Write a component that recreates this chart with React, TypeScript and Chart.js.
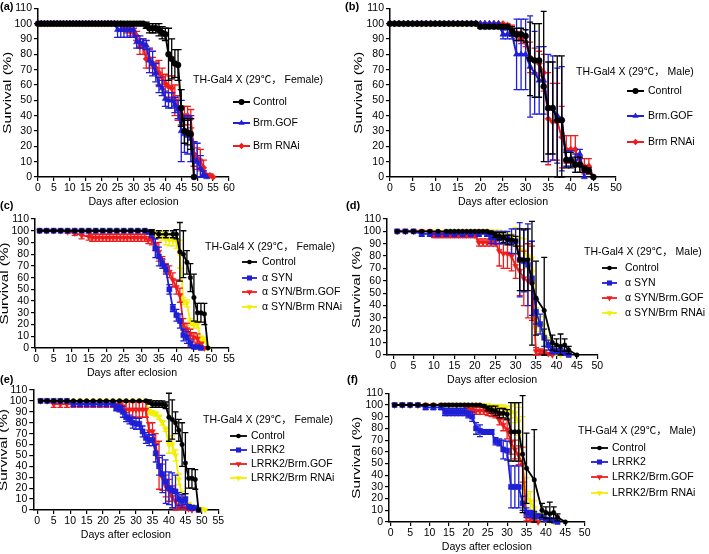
import React, { useEffect, useRef } from 'react';
import { Chart, registerables } from 'chart.js';
Chart.register(...registerables);

const FONT = '"Liberation Sans", Arial, "Noto Sans CJK SC", sans-serif';
const BLACK = '#000000';
const BLUE = '#1f1fd6';
const RED = '#f01c1c';
const YELLOW = '#f2ee00';

// ---------- tick labels ----------
const X_TICKS_60 = [0,5,10,15,20,25,30,35,40,45,50,55,60];
const X_TICKS_55 = [0,5,10,15,20,25,30,35,40,45,50,55];
const X_TICKS_50 = [0,5,10,15,20,25,30,35,40,45,50];
const Y_TICKS = [0,10,20,30,40,50,60,70,80,90,100,110];

// ---------- Panel (a) ----------
const A_ctrl_days = [0,1,2,3,4,5,6,7,8,9,10,11,12,13,14,15,16,17,18,19,20,21,22,23,24,25,26,27,28,29,30,31,32,33,34,35,36,37,38,39,40,41,42,43,44,45,46,47,48,49];
const A_ctrl = [100,100,100,100,100,100,100,100,100,100,100,100,100,100,100,100,100,100,100,100,100,100,100,100,100,100,100,100,100,100,100,100,100,100,99,97,97,97,96,94,93,80,77,74,73,45,30,29,28,0];
const A_ctrl_err = [0,0,0,0,0,0,0,0,0,0,0,0,0,0,0,0,0,0,0,0,0,0,0,0,0,0,0,0,0,0,0,0,0,0,2,3,3,3,4,4,4,17,13,9,10,12,8,8,10,0];
const A_gof_days = [0,1,2,3,4,5,6,7,8,9,10,11,12,13,14,15,16,17,18,19,20,21,22,23,24,25,26,27,28,29,30,31,32,33,34,35,36,37,38,39,40,41,42,43,44,45,46,47,48,49,50,51,52,53];
const A_gof = [100,100,100,100,100,100,100,100,100,100,100,100,100,100,100,100,100,100,100,100,100,100,100,100,100,96,96,96,96,96,96,88,88,87,86,76,74,68,60,58,51,50,50,47,44,30,28,27,25,11,10,6,2,0];
const A_gof_err = [0,0,0,0,0,0,0,0,0,0,0,0,0,0,0,0,0,0,0,0,0,0,0,0,0,5,5,5,5,5,5,4,4,3,3,8,8,6,5,5,5,5,5,5,6,20,12,12,15,12,12,8,2,0];
const A_rnai_days = [0,1,2,3,4,5,6,7,8,9,10,11,12,13,14,15,16,17,18,19,20,21,22,23,24,25,26,27,28,29,30,31,32,33,34,35,36,37,38,39,40,41,42,43,44,45,46,47,48,49,50,51,52,53,54,55];
const A_rnai = [100,100,100,100,100,100,100,100,100,100,100,100,100,100,100,100,100,100,100,100,100,100,100,100,100,100,100,98,97,95,94,92,85,85,77,77,73,71,68,65,61,59,58,50,45,40,40,40,38,15,12,11,6,1,1,0];
const A_rnai_err = [0,0,0,0,0,0,0,0,0,0,0,0,0,0,0,0,0,0,0,0,0,0,0,0,0,0,0,3,3,3,3,3,5,5,6,6,5,4,8,6,6,7,8,10,8,6,6,6,6,8,7,7,5,1,1,0];

// ---------- Panel (b) ----------
const B_ctrl_days = [0,1,2,3,4,5,6,7,8,9,10,11,12,13,14,15,16,17,18,19,20,21,22,23,24,25,26,27,28,29,30,31,32,33,34,35,36,37,38,39,40,41,42,43,44,45];
const B_ctrl = [100,100,100,100,100,100,100,100,100,100,100,100,100,100,100,100,100,100,100,100,98,98,98,98,98,98,98,95,93,93,92,77,76,76,59,45,45,37,37,11,11,8,8,5,4,0];
const B_ctrl_err = [0,0,0,0,0,0,0,0,0,0,0,0,0,0,0,0,0,0,0,0,1,1,1,1,1,1,1,3,4,4,4,24,24,24,49,30,30,42,42,5,5,5,5,2,2,0];
const B_gof_days = [0,1,2,3,4,5,6,7,8,9,10,11,12,13,14,15,16,17,18,19,20,21,22,23,24,25,26,27,28,29,30,31,32,33,34,35,36,37,38,39,40,41,42,43];
const B_gof = [100,100,100,100,100,100,100,100,100,100,100,100,100,100,100,100,100,100,100,100,100,100,100,100,100,93,93,93,80,80,80,72,68,63,63,45,45,40,38,12,12,9,15,0];
const B_gof_err = [0,0,0,0,0,0,0,0,0,0,0,0,0,0,0,0,0,0,0,0,0,0,0,0,0,3,3,3,23,23,23,33,27,22,22,35,34,31,34,5,5,6,3,0];
const B_rnai_days = [0,1,2,3,4,5,6,7,8,9,10,11,12,13,14,15,16,17,18,19,20,21,22,23,24,25,26,27,28,29,30,31,32,33,34,35,36,37,38,39,40,41,42,43,44,45];
const B_rnai = [100,100,100,100,100,100,100,100,100,100,100,100,100,100,100,100,100,100,100,100,100,100,100,100,100,100,99,96,92,90,88,78,76,74,68,38,36,36,26,18,18,18,8,7,7,0];
const B_rnai_err = [0,0,0,0,0,0,0,0,0,0,0,0,0,0,0,0,0,0,0,0,0,0,0,0,0,0,1,3,3,3,3,10,8,8,12,30,25,25,20,9,9,9,5,5,5,0];

// ---------- Panel (c) ----------
const C_ctrl_days = [1,3,5,7,9,11,13,15,17,19,21,23,25,27,29,31,33,35,37,39,40,41,42,43,44,45,46,47,48,49];
const C_ctrl = [100,100,100,100,100,100,100,100,100,100,100,100,100,100,100,100,99,97,97,97,97,82,80,73,60,43,30,30,29,0];
const C_ctrl_err = [0,0,0,0,0,0,0,0,0,0,0,0,0,0,0,0,2,3,3,3,4,25,20,10,12,20,8,8,9,0];
const C_syn_days = [1,3,5,7,9,11,13,15,17,19,21,23,25,27,29,31,32,33,34,35,36,37,38,39,40,41,42,43,44,45,46,47];
const C_syn = [100,100,100,100,100,100,100,100,100,100,100,100,100,100,100,100,99,97,85,78,72,67,50,34,28,23,11,9,4,1,1,0];
const C_syn_err = [0,0,0,0,0,0,0,0,0,0,0,0,0,0,0,0,1,3,8,8,4,4,4,3,5,6,5,5,3,1,1,0];
const C_gof_days = [1,3,5,7,9,11,13,15,16,17,18,19,20,21,22,23,24,25,26,27,28,29,30,31,32,33,34,35,36,37,38,39,40,41,42,43,44,45,46,47,48];
const C_gof = [100,100,100,100,99,98,96,95,94,94,94,94,94,94,94,94,94,94,94,94,94,94,94,94,92,92,88,82,74,68,65,58,52,45,20,16,12,9,8,3,0];
const C_gof_err = [0,0,0,0,1,2,3,3,3,3,3,3,3,3,3,3,3,3,3,3,3,3,3,3,3,4,5,8,4,4,5,6,6,6,5,5,4,4,4,2,0];
const C_rnai_days = [1,3,5,7,9,11,13,15,17,19,21,23,25,27,29,31,33,34,35,36,37,38,39,40,41,42,43,44,45,46,47,48,49];
const C_rnai = [100,100,100,100,100,100,100,100,100,100,100,100,100,100,100,100,99,97,97,96,93,92,92,91,80,40,38,22,20,20,8,7,0];
const C_rnai_err = [0,0,0,0,0,0,0,0,0,0,0,0,0,0,0,0,2,3,3,4,5,5,5,6,12,3,3,3,3,3,2,2,0];

// ---------- Panel (d) ----------
const D_ctrl_days = [1,3,5,7,9,11,13,14,15,16,17,18,19,20,21,22,23,24,25,26,27,28,29,30,31,32,33,34,35,37,39,40,41,42,43,45];
const D_ctrl = [100,100,100,100,100,100,100,100,100,100,100,100,100,100,100,100,100,99,97,96,95,93,93,92,77,77,77,58,46,36,10,8,7,8,4,0];
const D_ctrl_err = [0,0,0,0,0,0,0,0,0,0,0,0,0,0,0,0,0,1,2,3,4,4,4,4,25,25,25,50,30,43,6,5,10,5,3,0];
const D_syn_days = [1,3,5,7,9,11,13,15,17,19,21,23,24,25,26,27,28,29,30,31,32,33,34,35,36,37,38,39,40,41,42,43];
const D_syn = [100,100,100,98,98,98,98,98,98,98,98,98,95,95,95,95,95,92,92,77,76,73,62,35,25,14,8,4,3,3,2,0];
const D_syn_err = [0,0,0,2,2,2,2,2,2,2,2,2,5,5,5,5,5,10,10,30,25,33,30,10,8,7,4,3,2,2,2,0];
const D_gof_days = [1,3,5,7,9,10,11,12,13,14,15,16,17,18,19,20,21,22,23,24,25,26,27,28,29,30,31,32,33,34,35,36,37,38,39];
const D_gof = [100,100,100,100,100,97,97,97,97,97,97,97,97,97,97,97,91,91,91,91,91,84,82,82,80,72,68,62,60,58,3,3,2,1,0];
const D_gof_err = [0,0,0,0,0,2,2,2,2,2,2,2,2,2,2,2,3,3,3,3,3,12,12,12,12,10,20,22,30,30,3,2,2,1,0];
const D_rnai_days = [1,3,5,7,9,11,13,15,17,19,21,22,23,24,25,26,27,28,29,30,31,32,33,34,35,36,37,38,39,40,41];
const D_rnai = [100,100,100,100,100,100,100,100,100,100,100,100,100,100,98,98,97,96,95,93,85,84,80,78,30,25,20,10,5,2,0];
const D_rnai_err = [0,0,0,0,0,0,0,0,0,0,0,0,0,0,3,3,3,3,3,10,10,10,10,10,8,6,5,4,3,2,0];

// ---------- Panel (e) ----------
const E_ctrl_days = [1,3,5,7,9,11,13,15,17,19,21,23,25,27,29,31,33,34,35,36,37,38,39,40,41,42,43,44,45,46,47,48,49];
const E_ctrl = [100,100,100,100,100,100,100,100,100,100,100,100,100,100,100,100,100,99,97,97,97,97,96,85,83,80,73,60,43,29,29,28,0];
const E_ctrl_err = [0,0,0,0,0,0,0,0,0,0,0,0,0,0,0,0,0,2,3,3,3,3,3,22,18,10,10,20,28,9,9,9,0];
const E_lrrk_days = [1,3,5,7,9,11,13,15,17,19,21,23,24,25,26,27,28,29,30,31,32,33,34,35,36,37,38,39,40,41,42,43,44,45,46,47,48,49];
const E_lrrk = [100,100,100,100,100,97,97,97,97,97,97,97,94,93,90,85,83,80,79,79,72,66,64,64,52,40,33,26,20,18,17,10,8,10,3,2,2,0];
const E_lrrk_err = [0,0,0,0,0,2,2,2,2,2,2,2,3,3,5,4,4,5,5,5,5,5,5,5,8,8,17,20,15,16,15,6,6,5,2,2,1,0];
const E_gof_days = [1,3,5,7,9,11,13,15,17,19,21,23,25,26,27,28,29,30,31,32,33,34,35,36,37,38,39,40,41,42,43,44,45,46,47];
const E_gof = [100,100,97,97,97,97,97,97,97,97,97,97,97,95,92,92,92,92,92,92,92,72,72,60,41,30,22,18,12,8,3,3,2,1,0];
const E_gof_err = [0,0,3,3,3,3,3,3,3,3,3,3,3,5,7,7,7,7,7,7,7,8,8,10,22,12,10,10,10,8,2,2,1,1,0];
const E_rnai_days = [1,3,5,7,9,11,13,15,17,19,21,23,25,27,29,31,33,34,35,36,37,38,39,40,41,42,43,44,45,46,47,48,49,50,51];
const E_rnai = [100,100,100,100,100,100,100,100,100,100,100,100,100,100,100,100,100,90,89,88,85,80,74,60,60,50,28,12,11,5,3,2,1,1,0];
const E_rnai_err = [0,0,0,0,0,0,0,0,0,0,0,0,0,0,0,0,0,2,2,2,2,2,2,8,8,5,5,5,4,2,2,1,1,1,0];

// ---------- Panel (f) ----------
const F_ctrl_days = D_ctrl_days;
const F_ctrl = D_ctrl;
const F_ctrl_err = D_ctrl_err;
const F_lrrk_days = [1,3,5,7,9,11,13,14,15,16,17,18,19,20,21,22,23,24,25,26,27,28,29,30,31,32,33,34,35,36,37,38,39,40,41,42,43];
const F_lrrk = [100,100,100,100,98,98,98,94,94,94,94,94,94,92,90,80,78,77,77,77,69,68,62,61,30,30,30,16,8,7,6,5,4,2,2,1,0];
const F_lrrk_err = [0,0,0,0,2,2,2,3,3,3,3,3,3,3,4,5,5,2,2,2,3,3,8,8,18,18,18,6,4,3,3,2,2,1,1,1,0];
const F_gof_days = [1,3,5,7,9,11,13,15,17,19,20,21,22,23,24,25,26,27,28,29,30,31,32,33,34,35,36,37,38];
const F_gof = [100,100,100,100,100,100,100,100,100,100,97,96,95,95,95,94,93,92,87,83,79,68,62,57,49,4,3,2,0];
const F_gof_err = [0,0,0,0,0,0,0,0,0,0,3,3,3,3,3,3,3,3,4,5,8,10,8,8,15,3,2,2,0];
const F_rnai_days = [1,3,5,7,9,11,13,15,17,19,21,23,25,26,27,28,29,30,31,32,33,34,35,36,37,38,39,40,41,42];
const F_rnai = [100,100,100,100,100,100,100,100,100,100,100,100,100,99,97,97,97,96,94,93,86,50,23,18,12,5,4,2,1,0];
const F_rnai_err = [0,0,0,0,0,0,0,0,0,0,0,0,0,1,3,3,3,3,5,8,12,40,15,8,6,3,2,1,1,0];

type Series = { label: string; days: number[]; vals: number[]; errs: number[]; color: string; style: string; radius: number; rot: number };
const mk = (label: string, days: number[], vals: number[], errs: number[], color: string, style: string, radius: number, rot = 0): Series =>
  ({ label, days, vals, errs, color, style, radius, rot });

const FEMALE = 'TH-Gal4 X (29℃， Female)';
const MALE = 'TH-Gal4 X (29℃， Male)';

const PANELS = [
  {
    left: 0, top: 0, w: 354, h: 211, padTop: 7, padRight: 125, yW: 38, xMin: 0, xMax: 60, xTicks: X_TICKS_60,
    letter: '(a)', letterX: 0, letterY: 7, yTitleX: 8, lw: 2, cap: 3.5,
    legend: { title: FEMALE, tx: 193, ty: 80, ys: [102, 123, 146], m0: 233, m1: 250, textX: 253 },
    series: [
      mk('Control', A_ctrl_days, A_ctrl, A_ctrl_err, BLACK, 'circle', 3),
      mk('Brm.GOF', A_gof_days, A_gof, A_gof_err, BLUE, 'triangle', 3.6),
      mk('Brm RNAi', A_rnai_days, A_rnai, A_rnai_err, RED, 'rectRot', 3.2),
    ],
  },
  {
    left: 340, top: 0, w: 369, h: 211, padTop: 6, padRight: 93, yW: 50, xMin: 0, xMax: 50, xTicks: X_TICKS_50,
    letter: '(b)', letterX: 345, letterY: 7, yTitleX: 359, lw: 2, cap: 3,
    legend: { title: MALE, tx: 576, ty: 72, ys: [91, 116, 142], m0: 627, m1: 644, textX: 648 },
    series: [
      mk('Control', B_ctrl_days, B_ctrl, B_ctrl_err, BLACK, 'circle', 3),
      mk('Brm.GOF', B_gof_days, B_gof, B_gof_err, BLUE, 'triangle', 3.6),
      mk('Brm RNAi', B_rnai_days, B_rnai, B_rnai_err, RED, 'rectRot', 3.2),
    ],
  },
  {
    left: 0, top: 200, w: 354, h: 182, padTop: 19, padRight: 125, yW: 35, xMin: -0.3, xMax: 55, xTicks: X_TICKS_55,
    letter: '(c)', letterX: 0, letterY: 206, yTitleX: 5, lw: 1.8, cap: 3,
    legend: { title: FEMALE, tx: 205, ty: 247, ys: [262, 278, 292, 307], m0: 242, m1: 257, textX: 262 },
    series: [
      mk('Control', C_ctrl_days, C_ctrl, C_ctrl_err, BLACK, 'circle', 2.3),
      mk('α SYN', C_syn_days, C_syn, C_syn_err, BLUE, 'rect', 3.6),
      mk('α SYN/Brm.GOF', C_gof_days, C_gof, C_gof_err, RED, 'triangle', 3.4, 180),
      mk('α SYN/Brm RNAi', C_rnai_days, C_rnai, C_rnai_err, YELLOW, 'triangle', 3.4, 180),
    ],
  },
  {
    left: 340, top: 200, w: 369, h: 189, padTop: 19, padRight: 111.7, yW: 47, xMin: -1.5, xMax: 50, xTicks: X_TICKS_50,
    letter: '(d)', letterX: 346, letterY: 206, yTitleX: 357, lw: 1.8, cap: 3,
    legend: { title: MALE, tx: 584, ty: 252, ys: [268, 283, 298, 313], m0: 602, m1: 617, textX: 625 },
    series: [
      mk('Control', D_ctrl_days, D_ctrl, D_ctrl_err, BLACK, 'circle', 2.3),
      mk('α SYN', D_syn_days, D_syn, D_syn_err, BLUE, 'rect', 3.6),
      mk('α SYN/Brm.GOF', D_gof_days, D_gof, D_gof_err, RED, 'triangle', 3.4, 180),
      mk('α SYN/Brm RNAi', D_rnai_days, D_rnai, D_rnai_err, YELLOW, 'triangle', 3.4, 180),
    ],
  },
  {
    left: 0, top: 375, w: 354, h: 169, padTop: 15, padRight: 135.7, yW: 33.3, xMin: -1.2, xMax: 55, xTicks: X_TICKS_55,
    letter: '(e)', letterX: 0, letterY: 380, yTitleX: 4, lw: 1.8, cap: 3,
    legend: { title: FEMALE, tx: 203, ty: 420, ys: [436, 450, 464, 478], m0: 230, m1: 247, textX: 251 },
    series: [
      mk('Control', E_ctrl_days, E_ctrl, E_ctrl_err, BLACK, 'circle', 2.3),
      mk('LRRK2', E_lrrk_days, E_lrrk, E_lrrk_err, BLUE, 'rect', 3.6),
      mk('LRRK2/Brm.GOF', E_gof_days, E_gof, E_gof_err, RED, 'triangle', 3.4, 180),
      mk('LRRK2/Brm RNAi', E_rnai_days, E_rnai, E_rnai_err, YELLOW, 'triangle', 3.4, 180),
    ],
  },
  {
    left: 340, top: 375, w: 369, h: 181, padTop: 18.3, padRight: 124.3, yW: 49, xMin: -0.44, xMax: 50, xTicks: X_TICKS_50,
    letter: '(f)', letterX: 347, letterY: 380, yTitleX: 357, lw: 1.8, cap: 3,
    legend: { title: MALE, tx: 578, ty: 431, ys: [448, 462, 477, 493], m0: 591, m1: 608, textX: 612 },
    series: [
      mk('Control', F_ctrl_days, F_ctrl, F_ctrl_err, BLACK, 'circle', 2.3),
      mk('LRRK2', F_lrrk_days, F_lrrk, F_lrrk_err, BLUE, 'rect', 3.6),
      mk('LRRK2/Brm.GOF', F_gof_days, F_gof, F_gof_err, RED, 'triangle', 3.4, 180),
      mk('LRRK2/Brm RNAi', F_rnai_days, F_rnai, F_rnai_err, YELLOW, 'triangle', 3.4, 180),
    ],
  },
];

type PanelCfg = typeof PANELS[number];

function drawMarker(ctx: CanvasRenderingContext2D, style: string, x: number, y: number, r: number, rot: number, color: string) {
  ctx.save();
  ctx.translate(x, y);
  ctx.rotate((rot * Math.PI) / 180);
  ctx.fillStyle = color;
  ctx.beginPath();
  if (style === 'circle') {
    ctx.arc(0, 0, r, 0, Math.PI * 2);
  } else if (style === 'rect') {
    const s = r * Math.SQRT1_2;
    ctx.rect(-s, -s, 2 * s, 2 * s);
  } else if (style === 'triangle') {
    const edge = (3 * r) / Math.sqrt(3);
    const h = (edge * Math.sqrt(3)) / 2;
    ctx.moveTo(0, -(h * 2) / 3);
    ctx.lineTo(edge / 2, h / 3);
    ctx.lineTo(-edge / 2, h / 3);
    ctx.closePath();
  } else {
    ctx.moveTo(0, -r);
    ctx.lineTo(r, 0);
    ctx.lineTo(0, r);
    ctx.lineTo(-r, 0);
    ctx.closePath();
  }
  ctx.fill();
  ctx.restore();
}

function Panel({ cfg }: { cfg: PanelCfg }) {
  const ref = useRef<HTMLCanvasElement>(null);
  useEffect(() => {
    if (!ref.current) return;
    const deco = {
      id: 'deco',
      beforeDatasetDraw(chart: any, args: any) {
        const ds = chart.data.datasets[args.index];
        const errs: number[] = ds.errs;
        if (!errs) return;
        const ys = chart.scales.y;
        const ctx: CanvasRenderingContext2D = chart.ctx;
        ctx.save();
        ctx.strokeStyle = ds.borderColor;
        ctx.lineWidth = 1.3;
        args.meta.data.forEach((pt: any, i: number) => {
          const e = errs[i];
          if (!e) return;
          const v = ds.data[i].y;
          const top = ys.getPixelForValue(Math.min(110, v + e));
          const bot = ys.getPixelForValue(Math.max(0, v - e));
          const x = pt.x;
          ctx.beginPath();
          ctx.moveTo(x, top);
          ctx.lineTo(x, bot);
          ctx.moveTo(x - cfg.cap, top);
          ctx.lineTo(x + cfg.cap, top);
          ctx.moveTo(x - cfg.cap, bot);
          ctx.lineTo(x + cfg.cap, bot);
          ctx.stroke();
        });
        ctx.restore();
      },
      afterDraw(chart: any) {
        const ctx: CanvasRenderingContext2D = chart.ctx;
        const ca = chart.chartArea;
        const ox = cfg.left;
        const oy = cfg.top;
        ctx.save();
        ctx.fillStyle = '#000';
        ctx.textBaseline = 'middle';
        ctx.textAlign = 'left';
        ctx.font = `bold 11px ${FONT}`;
        ctx.fillText(cfg.letter, cfg.letterX - ox, cfg.letterY - oy);
        // y title (stretched along its length as in the original)
        ctx.save();
        ctx.translate(cfg.yTitleX - ox, (ca.top + ca.bottom) / 2);
        ctx.rotate(-Math.PI / 2);
        ctx.scale(1.45, 1);
        ctx.font = `10.5px ${FONT}`;
        ctx.textAlign = 'center';
        ctx.fillText('Survival (%)', 0, 0);
        ctx.restore();
        // legend
        const lg = cfg.legend;
        ctx.font = `10.5px ${FONT}`;
        ctx.textAlign = 'left';
        ctx.fillStyle = '#000';
        ctx.fillText(lg.title, lg.tx - ox, lg.ty - oy);
        cfg.series.forEach((s, i) => {
          const y = lg.ys[i] - oy;
          ctx.strokeStyle = s.color;
          ctx.lineWidth = cfg.lw;
          ctx.beginPath();
          ctx.moveTo(lg.m0 - ox, y);
          ctx.lineTo(lg.m1 - ox, y);
          ctx.stroke();
          drawMarker(ctx, s.style, (lg.m0 + lg.m1) / 2 - ox, y, s.radius, s.rot, s.color);
          ctx.fillStyle = '#000';
          ctx.fillText(s.label, lg.textX - ox, y);
        });
        ctx.restore();
      },
    };
    const tickFont = { family: FONT, size: 10.5 };
    const chart = new Chart(ref.current, {
      type: 'line',
      data: {
        datasets: cfg.series.map((s) => ({
          label: s.label,
          data: s.days.map((d, i) => ({ x: d, y: s.vals[i] })),
          errs: s.errs,
          borderColor: s.color,
          backgroundColor: s.color,
          borderWidth: cfg.lw,
          pointStyle: s.style,
          pointRotation: s.rot,
          pointRadius: s.radius,
          pointBorderWidth: 0.5,
          pointBorderColor: s.color,
          tension: 0,
          fill: false,
          clip: false,
        })) as any,
      },
      options: {
        animation: false,
        responsive: false,
        events: [],
        layout: { padding: { left: 0, top: cfg.padTop, right: cfg.padRight, bottom: 0 } },
        plugins: { legend: { display: false }, tooltip: { enabled: false } },
        scales: {
          x: {
            type: 'linear',
            bounds: 'data',
            min: cfg.xMin,
            max: cfg.xMax,
            afterBuildTicks: (s: any) => { s.ticks = cfg.xTicks.map((v) => ({ value: v })); },
            ticks: { autoSkip: false, maxRotation: 0, font: tickFont, color: '#000', padding: 1 },
            grid: { drawOnChartArea: false, drawTicks: true, tickLength: 4, color: '#000', lineWidth: 1.2 },
            border: { display: true, color: '#000', width: 1.5 },
            title: { display: true, text: 'Days after eclosion', font: { family: FONT, size: 10.6 }, color: '#000', padding: { top: 0, bottom: 3 } },
            afterFit: (s: any) => { s.height = 34; },
          },
          y: {
            min: 0,
            max: 110,
            afterBuildTicks: (s: any) => { s.ticks = Y_TICKS.map((v) => ({ value: v })); },
            ticks: { autoSkip: false, font: tickFont, color: '#000', padding: 2 },
            grid: { drawOnChartArea: false, drawTicks: true, tickLength: 4, color: '#000', lineWidth: 1.2 },
            border: { display: true, color: '#000', width: 1.5 },
            afterFit: (s: any) => { s.width = cfg.yW; },
          },
        },
      } as any,
      plugins: [deco as any],
    });
    return () => chart.destroy();
  }, [cfg]);
  return (
    <canvas
      ref={ref}
      width={cfg.w}
      height={cfg.h}
      style={{ position: 'absolute', left: cfg.left, top: cfg.top, width: cfg.w, height: cfg.h, display: 'block' }}
    />
  );
}

export default function App() {
  return (
    <div style={{ position: 'fixed', left: 0, top: 0, width: 709, height: 554, overflow: 'hidden', background: '#fff' }}>
      {PANELS.map((p, i) => (
        <Panel key={i} cfg={p} />
      ))}
    </div>
  );
}
